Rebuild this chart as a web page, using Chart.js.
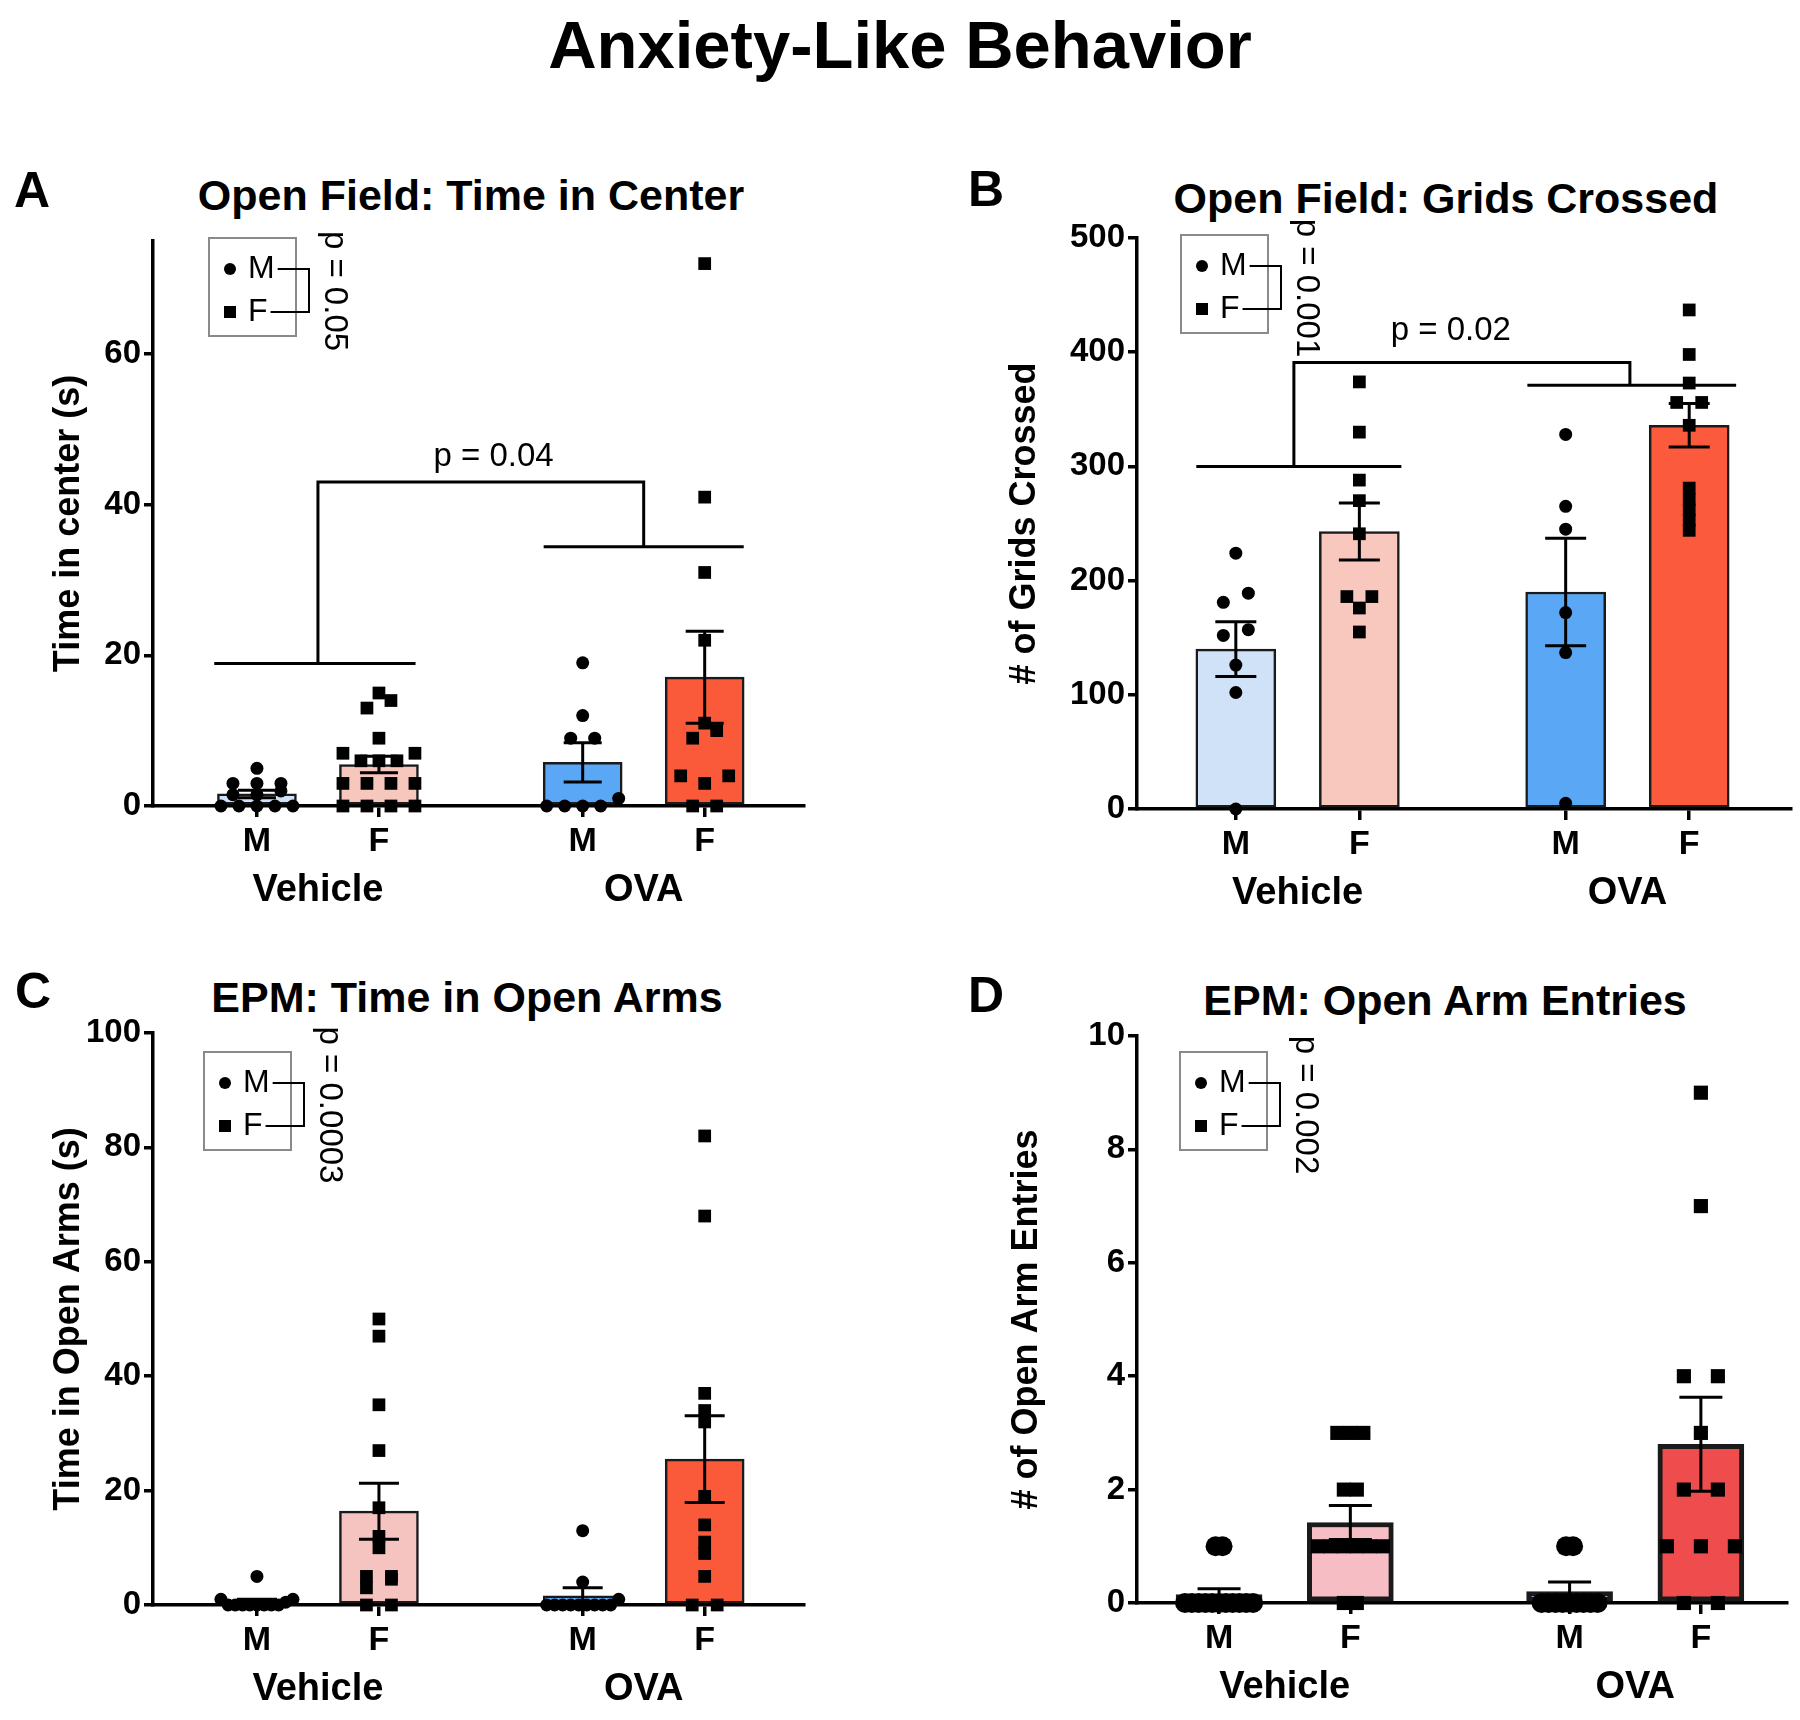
<!DOCTYPE html>
<html>
<head>
<meta charset="utf-8">
<script src="https://cdn.jsdelivr.net/npm/chart.js@4.4.1/dist/chart.umd.min.js"></script>
<style>
  body { margin: 0; background: #fff; width: 1800px; height: 1720px; position: relative; overflow: hidden;
         font-family: 'Liberation Sans', Arial, Helvetica, sans-serif; }
  .txt { position: absolute; transform: translate(-50%, -50%); font-weight: bold; color: #000; white-space: nowrap; }
  canvas { position: absolute; }
</style>
</head>
<body>
<div class="txt" style="left:900px;top:44px;font-size:67px">Anxiety-Like Behavior</div>

<div class="txt" style="left:32px;top:190px;font-size:50px">A</div>
<div class="txt" style="left:471px;top:195px;font-size:43px">Open Field: Time in Center</div>
<div class="txt" style="left:986px;top:189px;font-size:50px">B</div>
<div class="txt" style="left:1446px;top:198px;font-size:43px">Open Field: Grids Crossed</div>
<div class="txt" style="left:33px;top:991px;font-size:50px">C</div>
<div class="txt" style="left:467px;top:997px;font-size:43px">EPM: Time in Open Arms</div>
<div class="txt" style="left:986px;top:995px;font-size:50px">D</div>
<div class="txt" style="left:1445px;top:1000px;font-size:43px">EPM: Open Arm Entries</div>

<canvas id="chartA" width="830" height="730" style="left:0;top:200px"></canvas>
<canvas id="chartB" width="860" height="730" style="left:940px;top:200px"></canvas>
<canvas id="chartC" width="830" height="725" style="left:0;top:995px"></canvas>
<canvas id="chartD" width="860" height="725" style="left:940px;top:995px"></canvas>

<script>
// groups in plotting order: Vehicle M, Vehicle F, OVA M, OVA F
const sexLabels = ['M', 'F', 'M', 'F'];
const treatmentLabels = ['Vehicle', 'OVA'];
const legendSexes = ['M', 'F'];

// A: open field, time in center (s)
const centerMean = [1.6, 5.5, 5.8, 17.1];
const centerSem = [0.5, 1.1, 2.6, 6.1];
const centerVehM = [0, 0, 0, 0, 0, 1.5, 1.5, 2, 3, 3, 3, 5];
const centerVehF = [0, 0, 0, 0, 3, 3, 3, 3, 6, 6, 6, 7, 7, 9, 13, 14, 15];
const centerOvaM = [0, 0, 0, 0, 1, 9, 9, 12, 19];
const centerOvaF = [0, 0, 3, 4, 4, 9, 10, 11, 22, 31, 41, 72];
const centerTicks = [0, 20, 40, 60];

// B: open field, grids crossed
const gridsMean = [140, 243, 190, 336];
const gridsSem = [24, 25, 47, 19];
const gridsVehM = [0, 102, 126, 152, 157, 181, 189, 224];
const gridsVehF = [155, 176, 186, 186, 241, 270, 288, 330, 374];
const gridsOvaM = [5, 137, 172, 245, 265, 328];
const gridsOvaF = [244, 253, 262, 271, 281, 336, 356, 356, 373, 398, 437];
const gridsTicks = [0, 100, 200, 300, 400, 500];

// C: EPM, time in open arms (s)
const armTimeMean = [0.6, 16.4, 1.6, 25.5];
const armTimeSem = [0.4, 4.9, 1.4, 7.6];
const armTimeVehM = [0, 0, 0, 0, 0, 0, 0, 0, 0.5, 1, 1, 5];
const armTimeVehF = [0, 0, 3, 4.5, 5, 5, 10, 12, 17, 27, 35, 47, 50];
const armTimeOvaM = [0, 0, 0, 0, 0, 0, 0, 0, 0, 1, 4, 13];
const armTimeOvaF = [0, 0, 5, 9, 11, 14, 19, 32, 34, 37, 68, 82];
const armTimeTicks = [0, 20, 40, 60, 80, 100];

// D: EPM, open arm entries
const entriesMean = [0.15, 1.42, 0.2, 2.8];
const entriesSem = [0.1, 0.3, 0.17, 0.83];
const entriesVehM = [0, 0, 0, 0, 0, 0, 0, 0, 0, 0, 0, 1, 1];
const entriesVehF = [0, 0, 1, 1, 1, 1, 1, 1, 2, 2, 3, 3, 3];
const entriesOvaM = [0, 0, 0, 0, 0, 0, 0, 0, 0, 1, 1];
const entriesOvaF = [0, 0, 1, 1, 1, 2, 2, 3, 4, 4, 7, 9];
const entriesTicks = [0, 2, 4, 6, 8, 10];

const xPos = [0, 1, 2.67, 3.67];

Chart.defaults.font.family = "'Liberation Sans', Arial, Helvetica, sans-serif";
Chart.defaults.color = '#000';

// lay points out in rows around the bar centre, nearest-centre slots first
function swarm(chart, values, center, spacing, maxSpan, rowGap) {
  const ys = chart.scales.y, xs = chart.scales.x;
  const unit = xs.getPixelForValue(1) - xs.getPixelForValue(0);
  const sorted = values.slice().sort((a, b) => a - b);
  const out = [];
  let i = 0;
  while (i < sorted.length) {
    const p0 = ys.getPixelForValue(sorted[i]);
    let j = i;
    while (j < sorted.length && Math.abs(ys.getPixelForValue(sorted[j]) - p0) < rowGap) j++;
    const row = sorted.slice(i, j);
    const n = row.length;
    const step = n > 1 ? Math.min(spacing, maxSpan / (n - 1)) : 0;
    const slots = row.map((_, k) => (k - (n - 1) / 2) * step);
    slots.sort((a, b) => Math.abs(a) - Math.abs(b) || a - b);
    row.forEach((v, k) => out.push({ x: center + slots[k] / unit, y: v }));
    i = j;
  }
  return out;
}

function makePanel(p) {
  const annot = {
    id: 'annot',
    afterDatasetDraw(chart, args) {
      if (args.meta.type !== 'bar') return;
      const { ctx, scales: { x, y } } = chart;
      ctx.save();
      ctx.strokeStyle = '#000';
      ctx.lineWidth = 3;
      p.means.forEach((m, i) => {
        const px = x.getPixelForValue(xPos[i]);
        const top = y.getPixelForValue(m + p.sems[i]);
        const bot = y.getPixelForValue(Math.max(0, m - p.sems[i]));
        const hw = p.capWidth / 2;
        ctx.beginPath();
        ctx.moveTo(px, bot); ctx.lineTo(px, top);
        ctx.moveTo(px - hw, top); ctx.lineTo(px + hw, top);
        ctx.moveTo(px - hw, bot); ctx.lineTo(px + hw, bot);
        ctx.stroke();
      });
      ctx.restore();
    },
    afterDraw(chart) {
      const { ctx, chartArea: area, scales: { x, y } } = chart;
      ctx.save();
      ctx.fillStyle = '#000';
      // treatment labels under the sex labels
      ctx.font = "bold 38px 'Liberation Sans', Arial, sans-serif";
      ctx.textAlign = 'center';
      ctx.textBaseline = 'middle';
      treatmentLabels.forEach((t, k) => {
        const cx = (x.getPixelForValue(xPos[2 * k]) + x.getPixelForValue(xPos[2 * k + 1])) / 2;
        ctx.fillText(t, cx, area.bottom + 85);
      });

      // treatment bracket
      if (p.bracket) {
        const b = p.bracket;
        const X = v => x.getPixelForValue(v), Y = v => y.getPixelForValue(v);
        ctx.strokeStyle = '#000';
        ctx.lineWidth = 3;
        ctx.beginPath();
        ctx.moveTo(X(b.vehSpan[0]), Y(b.vehY)); ctx.lineTo(X(b.vehSpan[1]), Y(b.vehY));
        ctx.moveTo(X(b.ovaSpan[0]), Y(b.ovaY)); ctx.lineTo(X(b.ovaSpan[1]), Y(b.ovaY));
        ctx.moveTo(X(b.join[0]), Y(b.vehY)); ctx.lineTo(X(b.join[0]), Y(b.topY));
        ctx.lineTo(X(b.join[1]), Y(b.topY)); ctx.lineTo(X(b.join[1]), Y(b.ovaY));
        ctx.stroke();
        ctx.font = "33px 'Liberation Sans', Arial, sans-serif";
        ctx.fillText(p.treatP, X(b.textAt[0]), Y(b.textAt[1]));
      }

      // sex legend with its bracket and p value
      const bx = area.left + p.legend[0], by = area.top + p.legend[1];
      ctx.strokeStyle = '#8a8a8a';
      ctx.lineWidth = 2;
      ctx.strokeRect(bx, by, 87, 98);
      const rows = [by + 31, by + 74];
      ctx.beginPath();
      ctx.arc(bx + 21, rows[0], 6, 0, Math.PI * 2);
      ctx.fill();
      ctx.fillRect(bx + 15, rows[1] - 6, 12, 12);
      ctx.font = "32px 'Liberation Sans', Arial, sans-serif";
      ctx.textAlign = 'left';
      legendSexes.forEach((s, k) => ctx.fillText(s, bx + 39, rows[k]));
      const ends = legendSexes.map(s => bx + 39 + ctx.measureText(s).width + 3);
      ctx.strokeStyle = '#000';
      ctx.beginPath();
      ctx.moveTo(ends[0], rows[0]); ctx.lineTo(bx + 100, rows[0]);
      ctx.lineTo(bx + 100, rows[1]); ctx.lineTo(ends[1], rows[1]);
      ctx.stroke();
      ctx.font = "33px 'Liberation Sans', Arial, sans-serif";
      ctx.translate(bx + 125, by + 53);
      ctx.rotate(Math.PI / 2);
      ctx.textAlign = 'center';
      ctx.fillText(p.sexP, 0, 0);
      ctx.restore();
    }
  };

  const axisGrid = { drawOnChartArea: false, drawTicks: true, offset: false, color: '#000', lineWidth: 3.5 };
  const pointSets = p.points.map((vals, i) => ({
    type: 'scatter',
    data: [],
    pointStyle: i % 2 ? 'rect' : 'circle',
    pointRadius: i % 2 ? p.squareR : p.dotR,
    pointBackgroundColor: '#000',
    pointBorderWidth: 0,
    clip: false,
    order: 0
  }));

  const chart = new Chart(document.getElementById(p.id), {
    type: 'scatter',
    data: {
      datasets: [
        ...pointSets,
        {
          type: 'bar',
          data: p.means.map((m, i) => ({ x: xPos[i], y: m })),
          backgroundColor: p.colors,
          borderColor: '#1a1a1a',
          borderWidth: p.barBorder,
          borderSkipped: false,
          barThickness: p.barWidth,
          order: 1
        }
      ]
    },
    options: {
      responsive: false,
      animation: false,
      events: [],
      layout: { padding: { top: p.padTop, right: p.padRight, left: 0, bottom: 0 } },
      plugins: { legend: { display: false }, tooltip: { enabled: false } },
      scales: {
        x: {
          type: 'linear', min: p.xRange[0], max: p.xRange[1], offset: false,
          afterBuildTicks: s => { s.ticks = xPos.map(v => ({ value: v })); },
          afterFit: s => { s.height = p.xAxisH; },
          ticks: { autoSkip: false, maxRotation: 0, padding: 4,
                   font: { size: 34, weight: 'bold' }, callback: (v, i) => sexLabels[i] },
          grid: { ...axisGrid, tickLength: 11 },
          border: { color: '#000', width: 3.5 }
        },
        y: {
          type: 'linear', min: 0, max: p.yMax,
          afterBuildTicks: s => { s.ticks = p.yTicks.map(v => ({ value: v })); },
          afterFit: s => { s.width = p.yAxisW; },
          ticks: { padding: 3, font: { size: 33, weight: 'bold' } },
          grid: { ...axisGrid, tickLength: 9 },
          border: { color: '#000', width: 3.5 },
          title: { display: true, text: p.yTitle, font: { size: 36, weight: 'bold' },
                   padding: { top: p.yTitlePad, bottom: 0 } }
        }
      }
    },
    plugins: [annot]
  });

  p.points.forEach((vals, i) => {
    chart.data.datasets[i].data = swarm(chart, vals, xPos[i], p.spacing[i], p.maxSpan, p.rowGap);
  });
  chart.update('none');
  return chart;
}

makePanel({
  id: 'chartA', yTitle: 'Time in center (s)', yMax: 75, yTicks: centerTicks,
  means: centerMean, sems: centerSem,
  points: [centerVehM, centerVehF, centerOvaM, centerOvaF],
  colors: ['#cfe2f8', '#f7c6bd', '#5aa8f5', '#fb5a3a'],
  xRange: [-0.852, 4.484], padTop: 41, padRight: 26, xAxisH: 124, yAxisW: 153, yTitlePad: 47,
  barWidth: 79, barBorder: 2.5, capWidth: 38, dotR: 6.5, squareR: 9,
  spacing: [24, 24, 24, 24], maxSpan: 72, rowGap: 10,
  legend: [56, -3], sexP: 'p = 0.05', treatP: 'p = 0.04',
  bracket: { vehY: 18.9, ovaY: 34.4, topY: 43, vehSpan: [-0.35, 1.30], ovaSpan: [2.35, 3.99],
             join: [0.5, 3.17], textAt: [1.94, 46.3] }
});

makePanel({
  id: 'chartB', yTitle: '# of Grids Crossed', yMax: 500, yTicks: gridsTicks,
  means: gridsMean, sems: gridsSem,
  points: [gridsVehM, gridsVehF, gridsOvaM, gridsOvaF],
  colors: ['#cfe2f8', '#f8c7bd', '#5aa8f5', '#fc5a3c'],
  xRange: [-0.80, 4.494], padTop: 38, padRight: 9, xAxisH: 121, yAxisW: 197, yTitlePad: 63,
  barWidth: 80, barBorder: 2.5, capWidth: 41, dotR: 6.5, squareR: 9,
  spacing: [25, 25, 25, 25], maxSpan: 74, rowGap: 10,
  legend: [44, -3], sexP: 'p = 0.001', treatP: 'p = 0.02',
  bracket: { vehY: 300, ovaY: 371, topY: 391, vehSpan: [-0.32, 1.34], ovaSpan: [2.36, 4.05],
             join: [0.47, 3.19], textAt: [1.74, 419] }
});

makePanel({
  id: 'chartC', yTitle: 'Time in Open Arms (s)', yMax: 100, yTicks: armTimeTicks,
  means: armTimeMean, sems: armTimeSem,
  points: [armTimeVehM, armTimeVehF, armTimeOvaM, armTimeOvaF],
  colors: ['#cfe2f8', '#f6c4c0', '#5aa8f5', '#fb5a3a'],
  xRange: [-0.852, 4.484], padTop: 38, padRight: 26, xAxisH: 115, yAxisW: 153, yTitlePad: 47,
  barWidth: 79, barBorder: 2.5, capWidth: 40, dotR: 6.5, squareR: 9,
  spacing: [25, 25, 25, 25], maxSpan: 72, rowGap: 10,
  legend: [51, 19], sexP: 'p = 0.0003'
});

makePanel({
  id: 'chartD', yTitle: '# of Open Arm Entries', yMax: 10, yTicks: entriesTicks,
  means: entriesMean, sems: entriesSem,
  points: [entriesVehM, entriesVehF, entriesOvaM, entriesOvaF],
  colors: ['#cfe2f8', '#f6bdc4', '#5aa8f5', '#ef4d4d'],
  xRange: [-0.625, 4.326], padTop: 41, padRight: 13, xAxisH: 117, yAxisW: 197, yTitlePad: 65,
  barWidth: 86, barBorder: 5, capWidth: 43, dotR: 10, squareR: 10,
  spacing: [7, 13, 7, 34], maxSpan: 68, rowGap: 10,
  legend: [43, 16], sexP: 'p = 0.002'
});
</script>
</body>
</html>
